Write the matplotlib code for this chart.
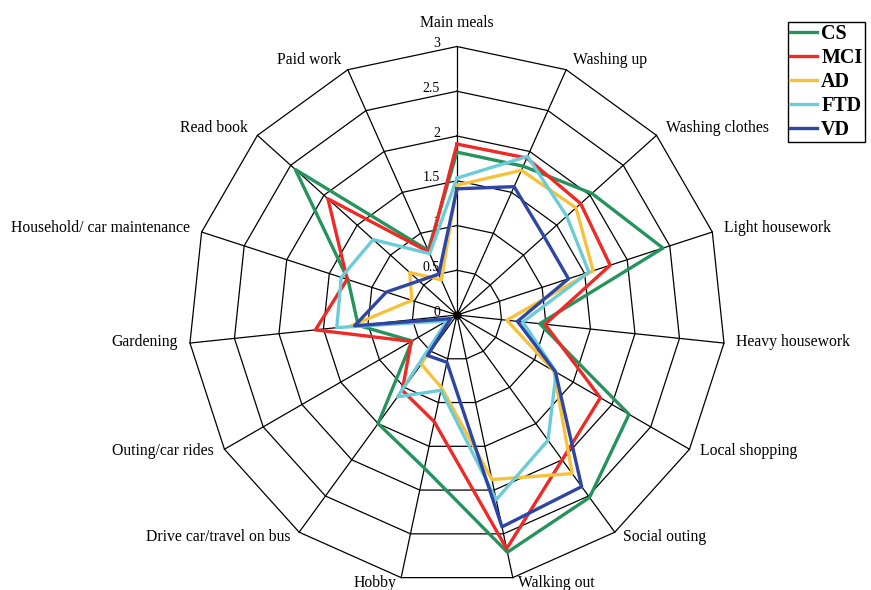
import numpy as np
import matplotlib.pyplot as plt
from matplotlib.lines import Line2D

plt.rcParams['font.family'] = ['Liberation Serif', 'DejaVu Serif']

# Activities, listed clockwise from the top
activities = ['Main meals', 'Washing up', 'Washing clothes', 'Light housework',
              'Heavy housework', 'Local shopping', 'Social outing', 'Walking out',
              'Hobby', 'Drive car/travel on bus', 'Outing/car rides', 'Gardening',
              'Household/ car maintenance', 'Read book', 'Paid work']

# Mean scores per group
cs = [1.82, 1.82, 2.03, 2.42, 0.93, 2.22, 2.52, 2.71, 1.75, 1.50, 0.58, 1.11, 1.28, 2.43, 0.79]
mci = [1.91, 1.92, 1.86, 1.80, 0.99, 1.85, 2.00, 2.67, 1.22, 1.04, 0.59, 1.59, 1.29, 1.94, 0.77]
ad = [1.45, 1.77, 1.79, 1.60, 0.56, 1.25, 2.19, 1.88, 0.83, 0.68, 0.12, 1.20, 0.53, 0.71, 0.43]
ftd = [1.53, 1.94, 1.65, 1.55, 0.74, 1.28, 1.73, 2.11, 0.86, 1.13, 0.13, 1.35, 1.36, 1.26, 0.75]
vd = [1.41, 1.57, 1.31, 1.31, 0.68, 1.27, 2.37, 2.42, 0.54, 0.56, 0.08, 1.15, 0.83, 0.57, 0.50]

groups = ['CS', 'MCI', 'AD', 'FTD', 'VD']
colors = ['#25935c', '#ee2a26', '#f6c23c', '#6ccbd8', '#2d45a5']
ring_values = [0.5, 1, 1.5, 2, 2.5, 3]
tick_values = [0, 0.5, 1, 1.5, 2, 2.5, 3]
tick_labels = ['0', '0.5', '1', '1.5', '2', '2.5', '3']

n = len(activities)
theta = np.linspace(0, 2 * np.pi, n, endpoint=False)
theta_closed = np.append(theta, theta[0])

fig = plt.figure(figsize=(8.71, 5.90), dpi=100)
ax = fig.add_axes([0.2164, 0.011, 0.6165, 0.9102], projection='polar')
ax.set_theta_zero_location('N')
ax.set_theta_direction(-1)
ax.set_ylim(0, 3)
ax.grid(False)
ax.set_xticks([])
ax.set_yticks([])
ax.spines['polar'].set_visible(False)
ax.patch.set_alpha(0)

# polygon web: rings and spokes
for r in ring_values:
    ax.plot(theta_closed, [r] * (n + 1), color='black', lw=0.9, clip_on=False, zorder=1)
for t in theta:
    ax.plot([t, t], [0, 3], color='black', lw=0.9, clip_on=False, zorder=1)
ax.plot([0], [0], 'o', color='black', ms=5, zorder=1)

# radial tick labels beside the top spoke
for v, lbl in zip(tick_values, tick_labels):
    ax.annotate(lbl, xy=(0, v), xytext=(-17, 3), textcoords='offset pixels',
                ha='right', va='center', fontsize=10)

# activity labels around the outside
for t, name in zip(theta, activities):
    s, c = np.sin(t), np.cos(t)
    if abs(s) < 0.05:
        ax.annotate(name, xy=(t, 3), xytext=(0, 16), textcoords='offset pixels',
                    ha='center', va='bottom', fontsize=11.3)
        continue
    dx = np.sign(s) * (3 + 9 * abs(s))
    dy = 8 * c + 2
    ax.annotate(name, xy=(t, 3), xytext=(dx, dy), textcoords='offset pixels',
                ha='left' if s > 0 else 'right', va='center', fontsize=11.3)

series = [cs, mci, ad, ftd, vd]
for vals, col in zip(series, colors):
    ax.plot(theta_closed, vals + vals[:1], color=col, lw=2.4, zorder=3)

handles = [Line2D([], [], color=col, lw=2.4) for col in colors]
leg = fig.legend(handles, groups, loc='upper left', bbox_to_anchor=(0.905, 0.962),
                 prop={'family': 'Liberation Serif', 'weight': 'bold', 'size': 14.4},
                 frameon=True, fancybox=False, edgecolor='black', framealpha=1,
                 handlelength=1.35, handletextpad=0.2, labelspacing=0.2,
                 borderpad=0.1, borderaxespad=0)
leg.get_frame().set_linewidth(1.0)

fig.savefig('out.png', dpi=100)
